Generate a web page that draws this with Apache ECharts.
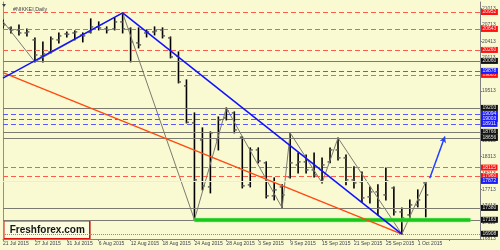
<!DOCTYPE html>
<html><head><meta charset="utf-8">
<script src="https://cdn.jsdelivr.net/npm/echarts@6/dist/echarts.min.js"></script>
<style>html,body{margin:0;padding:0;background:#fafad2}#c{width:500px;height:250px}</style>
</head><body><div id="c"></div>
<script>
// ---- data ----
const dates = ['21 Jul 2015','22 Jul 2015','23 Jul 2015','24 Jul 2015','27 Jul 2015','28 Jul 2015','29 Jul 2015','30 Jul 2015','31 Jul 2015',
 '3 Aug 2015','4 Aug 2015','5 Aug 2015','6 Aug 2015','7 Aug 2015','10 Aug 2015','11 Aug 2015','12 Aug 2015','13 Aug 2015','14 Aug 2015',
 '17 Aug 2015','18 Aug 2015','19 Aug 2015','20 Aug 2015','21 Aug 2015','24 Aug 2015','25 Aug 2015','26 Aug 2015','27 Aug 2015','28 Aug 2015',
 '31 Aug 2015','1 Sep 2015','2 Sep 2015','3 Sep 2015','4 Sep 2015','7 Sep 2015','8 Sep 2015','9 Sep 2015','10 Sep 2015','11 Sep 2015',
 '14 Sep 2015','15 Sep 2015','16 Sep 2015','17 Sep 2015','18 Sep 2015','21 Sep 2015','22 Sep 2015','23 Sep 2015','24 Sep 2015','25 Sep 2015',
 '28 Sep 2015','29 Sep 2015','30 Sep 2015','1 Oct 2015','2 Oct 2015'];
const openP  = [20771,20662,20625,20570,20443,20151,20224,20443,20552,20570,20534,20580,20680,20643,20643,20771,20643,20388,20570,20589,20625,20479,20151,19604,18930,18620,17763,18620,19021,19112,18670,17800,18437,18201,17599,17763,17945,18164,18219,18073,18073,18219,18437,18292,17891,17854,17581,17672,17617,17744,17307,17252,17435,17836];
const highP  = [20807,20680,20716,20643,20479,20406,20497,20570,20589,20607,20570,20826,20771,20680,20844,20935,20662,20662,20625,20680,20662,20497,20224,19714,19112,18839,18766,19039,19203,19130,18675,18474,18474,18219,17927,17800,18748,18383,18346,18383,18292,18474,18656,18346,18128,18036,17763,17800,18109,17763,17380,17526,17708,17854];
const lowP   = [20662,20570,20534,20516,20042,20042,20206,20388,20497,20443,20406,20570,20625,20570,20625,20570,20042,20297,20497,20534,20479,20115,19659,18930,17165,17708,17654,18437,18984,18748,17744,17763,18201,17562,17526,17380,17927,18018,18018,17945,17836,18201,18255,17800,17744,17490,17471,17252,17526,17252,16901,17161,17399,17216];
const closeP = [20716,20625,20570,20589,20169,20188,20461,20516,20545,20589,20516,20680,20662,20625,20771,20643,20406,20352,20589,20607,20516,20133,19677,18940,17891,17782,18748,18984,19148,18802,17782,18437,18237,17599,17708,17617,18201,18219,18073,17981,18164,18437,18292,17891,17836,17562,17672,17380,17872,17307,17198,17435,17526,17617];

const zigzagIdx = [0, 4, 15, 24, 28, 35, 36, 40, 42, 50, 53];
const zigzagVal = [20780, 20042, 20935, 17165, 19203, 17380, 18748, 17836, 18656, 16901, 17854];

const blueUpIdx = [0, 15],  blueUpVal = [19745, 20935];
const blueDnIdx = [15, 50], blueDnVal = [20935, 16901];
const orangeIdx = [0, 50],  orangeVal = [19848, 16901];
const arrowIdx  = [53.5, 55.4], arrowVal = [17922, 18680];
const supportIdx = [24, 58.6], supportVal = 17163;

const redLevels    = [20952, 20643, 20260, 19805, 18115, 17960];
const blueLevels   = [19878, 19094, 19003, 18911];
const greyLevels   = [20060, 19203, 18766, 18656, 17380, 17163];
const lightLevels  = [17872];
const dottedLevels = [16908];

const priceScaleLabels = ['16813','17113','17413','17713','18013','18313','18613','18913','19213','19513','19813','20113','20413','20713','21013'];
const priceScaleBase = 16800, priceScaleStep = 300;

// ---- chart ----
const FONT = 'Liberation Sans';
const chart = echarts.init(document.getElementById('c'), null, {renderer:'canvas'});

function lvlLabel(v, bg, fg){
  return {show:true, position:'end', distance:1, formatter:String(v), fontSize:5, fontFamily:FONT,
    color:fg, backgroundColor:bg, padding:[0.5,1.5], lineHeight:5};
}
const levelData = [];
redLevels.forEach(v=>levelData.push({yAxis:v, lineStyle:{color:'#ff5a4a',type:[5,3],width:1}, label:lvlLabel(v,'#ff1010','#ffe0e0')}));
blueLevels.forEach(v=>levelData.push({yAxis:v, lineStyle:{color:'#5a5aff',type:[5,3],width:1}, label:lvlLabel(v,'#1a1aff','#e8e8ff')}));
greyLevels.forEach(v=>levelData.push({yAxis:v, lineStyle:{color:'#7a7a70',type:'solid',width:1}, label:lvlLabel(v,'#101010','#e0e0e0')}));
lightLevels.forEach(v=>levelData.push({yAxis:v, lineStyle:{color:'#ececdc',type:'solid',width:1}, label:lvlLabel(v,'#1a1aff','#e8e8ff')}));
dottedLevels.forEach(v=>levelData.push({yAxis:v, lineStyle:{color:'#8a8aa8',type:[1,1],width:1}, label:lvlLabel(v,'#101010','#e0e0e0')}));

const ohlc = dates.map((d,i)=>[i, openP[i], highP[i], lowP[i], closeP[i]]);

chart.setOption({
  animation:false,
  backgroundColor:'#fafad2',
  grid:{left:1.5, right:20, top:2, bottom:11, containLabel:false},
  xAxis:{type:'value', min:0, max:59.8, interval:4,
    axisLine:{show:true, lineStyle:{color:'#808080',width:1}},
    axisTick:{show:true, length:2, lineStyle:{color:'#808080'}},
    splitLine:{show:false},
    axisLabel:{show:true, fontSize:5, fontFamily:FONT, color:'#404050', margin:2, align:'left', showMaxLabel:false,
      formatter:(v)=> (Number.isInteger(v) && dates[v]) ? dates[v] : ''}},
  yAxis:[
    {type:'value', min:16813, max:21134, position:'left', axisLine:{show:true, lineStyle:{color:'#909090'}},
     axisTick:{show:false}, axisLabel:{show:false}, splitLine:{show:false}},
    {type:'value', min:16800, max:21121, interval:300, position:'right',
     axisLine:{show:true, onZero:false, lineStyle:{color:'#808080'}},
     axisTick:{show:true, length:2, lineStyle:{color:'#808080'}},
     splitLine:{show:false},
     axisLabel:{show:true, fontSize:5, fontFamily:FONT, color:'#4a4a5a', margin:2, showMaxLabel:false,
       formatter:(v)=>{ const k=(v-priceScaleBase)/priceScaleStep; return Number.isInteger(k) && priceScaleLabels[k] ? priceScaleLabels[k] : ''; }}}
  ],
  title:{text:'#NIKKEI,Daily', left:8, top:2, textStyle:{fontSize:5.4, fontFamily:FONT, fontWeight:'normal', color:'#404050'}},
  series:[
    {type:'scatter', data:[], yAxisIndex:0, z:1, silent:true,
     markLine:{silent:true, symbol:'none', animation:false, data:levelData}},
    {type:'line', z:2, yAxisIndex:0, silent:true, showSymbol:false, data:[],
     markLine:{silent:true, symbol:'none', animation:false,
       data:[[{coord:[supportIdx[0],supportVal]},{coord:[supportIdx[1],supportVal]}]],
       lineStyle:{color:'#19c819', width:3.5, type:'solid', shadowColor:'#8ef08e', shadowBlur:2},
       label:{show:false}}},
    {type:'custom', z:3, yAxisIndex:0, data:ohlc, encode:{x:0, y:[1,2,3,4]}, clip:true,
     renderItem:(params, api)=>{
       const x = api.value(0);
       const pO = api.coord([x, api.value(1)]);
       const pH = api.coord([x, api.value(2)]);
       const pL = api.coord([x, api.value(3)]);
       const pC = api.coord([x, api.value(4)]);
       return {type:'group', children:[
         {type:'line', shape:{x1:pH[0],y1:pH[1]-0.5,x2:pL[0],y2:pL[1]+0.5}, style:{stroke:'#000',lineWidth:1.6}},
         {type:'line', shape:{x1:pO[0]-2.5,y1:pO[1],x2:pO[0],y2:pO[1]}, style:{stroke:'#606060',lineWidth:1.5}},
         {type:'line', shape:{x1:pC[0],y1:pC[1],x2:pC[0]+2.5,y2:pC[1]}, style:{stroke:'#606060',lineWidth:1.5}}
       ]};
     }},
    {type:'line', z:4, yAxisIndex:0, showSymbol:false, silent:true,
     data:zigzagIdx.map((x,i)=>[x, zigzagVal[i]]), lineStyle:{color:'#7a7a70', width:1}},
    {type:'line', z:5, yAxisIndex:0, showSymbol:false, silent:true,
     data:orangeIdx.map((x,i)=>[x, orangeVal[i]]), lineStyle:{color:'#ff4a10', width:1.4}},
    {type:'line', z:5, yAxisIndex:0, showSymbol:false, silent:true,
     data:blueUpIdx.map((x,i)=>[x, blueUpVal[i]]), lineStyle:{color:'#1010ff', width:1.5}},
    {type:'line', z:5, yAxisIndex:0, showSymbol:false, silent:true,
     data:blueDnIdx.map((x,i)=>[x, blueDnVal[i]]), lineStyle:{color:'#1010ff', width:1.5}},
    {type:'line', z:6, yAxisIndex:0, silent:true, showSymbol:false, data:[],
     markLine:{silent:true, symbol:['none','arrow'], symbolSize:[5,6], animation:false,
       data:[[{coord:[arrowIdx[0],arrowVal[0]]},{coord:[arrowIdx[1],arrowVal[1]]}]],
       lineStyle:{color:'#2040ff', width:1.5, type:'solid', curveness:-0.12},
       label:{show:false}}}
  ],
  graphic:[
    {type:'polygon', left:2, top:4, shape:{points:[[0,0],[4,0],[2,3]]}, style:{fill:'#404050'}, z:100},
    {type:'group', left:3, top:220, z:100, children:[
      {type:'rect', shape:{x:1,y:1,width:86,height:18}, style:{fill:'#9a9a8a', opacity:0.5}},
      {type:'rect', shape:{x:0,y:0,width:86,height:18}, style:{fill:'#fbfbe0', stroke:'#e01010', lineWidth:1.5}},
      {type:'text', style:{x:6, y:9.5, text:'Freshforex.com', font:'bold 10px "Liberation Sans"', fill:'#151515', textVerticalAlign:'middle'}}
    ]}
  ]
});
</script>
</body></html>
